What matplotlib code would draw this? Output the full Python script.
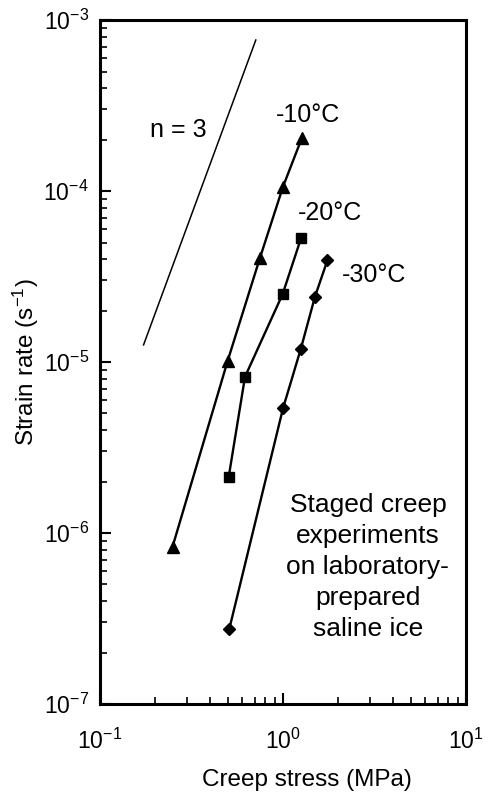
import matplotlib
matplotlib.use("Agg")
import matplotlib.pyplot as plt

plt.rcParams['font.family'] = ['Liberation Sans', 'DejaVu Sans']
plt.rcParams['mathtext.fontset'] = 'custom'
plt.rcParams['mathtext.rm'] = 'Liberation Sans'
plt.rcParams['mathtext.it'] = 'Liberation Sans'
plt.rcParams['mathtext.default'] = 'regular'

# -10 C (triangles)
stress_m10 = [0.249, 0.499, 0.748, 1.00, 1.265]
rate_m10 = [8.3e-7, 1.02e-5, 4.06e-5, 1.06e-4, 2.03e-4]

# -20 C (squares)
stress_m20 = [0.505, 0.62, 0.996, 1.254]
rate_m20 = [2.13e-6, 8.2e-6, 2.50e-5, 5.29e-5]

# -30 C (diamonds)
stress_m30 = [0.508, 1.00, 1.25, 1.495, 1.75]
rate_m30 = [2.73e-7, 5.36e-6, 1.19e-5, 2.41e-5, 3.95e-5]

# n = 3 reference slope
slope_x = [0.173, 0.71]
slope_y = [1.26e-5, 7.64e-4]

fig = plt.figure(figsize=(4.89, 7.92), dpi=100)
ax = fig.add_axes([0.2045, 0.1111, 0.7485, 0.8636])

ax.plot(slope_x, slope_y, color='k', lw=1.1)
ax.plot(stress_m10, rate_m10, 'k-', marker='^', ms=8, lw=1.7)
ax.plot(stress_m20, rate_m20, 'k-', marker='s', ms=7.5, lw=1.7)
ax.plot(stress_m30, rate_m30, 'k-', marker='D', ms=6.5, lw=1.7)

ax.set_xscale('log')
ax.set_yscale('log')
ax.set_xlim(0.1, 10)
ax.set_ylim(1e-7, 1e-3)

fs = 18
ax.text(0.267, 2.27e-4, 'n = 3', fontsize=fs, ha='center', va='center')
ax.text(1.37, 2.78e-4, '-10°C', fontsize=fs, ha='center', va='center')
ax.text(1.81, 7.43e-5, '-20°C', fontsize=fs, ha='center', va='center')
ax.text(3.14, 3.23e-5, '-30°C', fontsize=fs, ha='center', va='center')
ax.text(2.91, 6.33e-7, 'Staged creep\nexperiments\non laboratory-\nprepared\nsaline ice',
        fontsize=19, ha='center', va='center', multialignment='center', linespacing=1.38)

ax.set_xlabel('Creep stress (MPa)', fontsize=17.5)
ax.set_ylabel('Strain rate (s$^{-1}$)', fontsize=17.5)
ax.xaxis.set_label_coords(0.566, -0.095)
ax.yaxis.set_label_coords(-0.161, 0.5)

for s in ax.spines.values():
    s.set_linewidth(2.2)

ax.tick_params(which='both', direction='in', top=False, right=False, labelsize=16.5)
ax.tick_params(which='major', length=8, width=1.5)
ax.tick_params(which='minor', length=5, width=1.2)
ax.tick_params(axis='x', which='major', pad=17.5)
ax.tick_params(axis='y', which='major', pad=8)

fig.savefig('out.png', dpi=100)
